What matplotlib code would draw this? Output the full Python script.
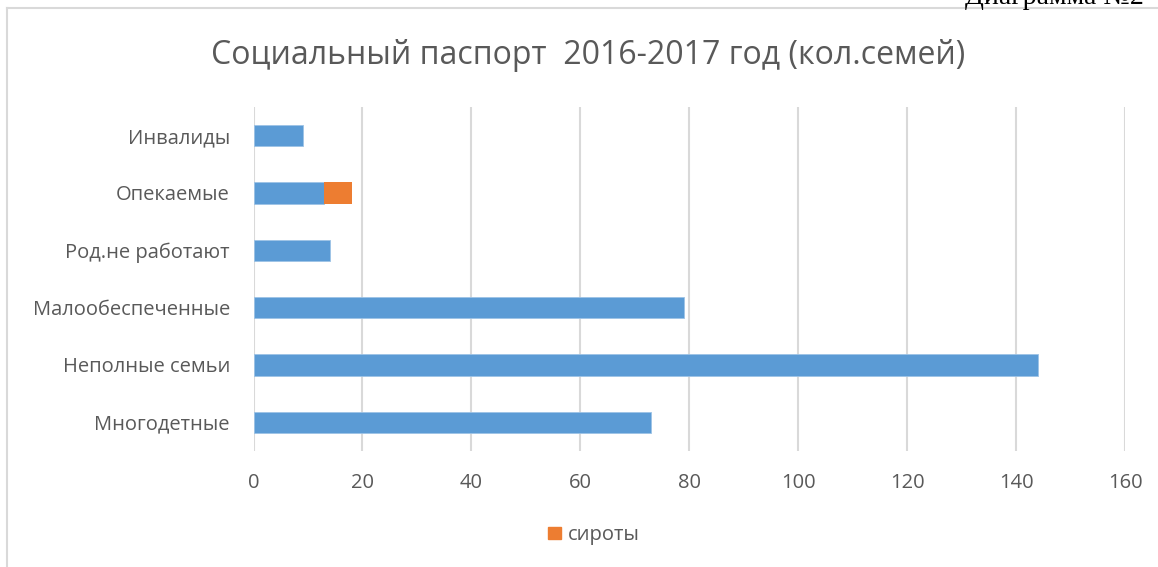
import matplotlib
matplotlib.use("Agg")
from matplotlib import pyplot as plt
from matplotlib.patches import Patch
import numpy as np

plt.rcParams['font.family'] = ['Open Sans', 'DejaVu Sans']

categories = ["Многодетные", "Неполные семьи", "Малообеспеченные",
              "Род.не работают", "Опекаемые", "Инвалиды"]
families = [73, 144, 79, 14, 13, 9]
orphans = [0, 0, 0, 0, 5, 0]
xticks = [0, 20, 40, 60, 80, 100, 120, 140, 160]

blue = "#5b9bd5"
orange = "#ed7d31"
grey = "#595959"

fig = plt.figure(figsize=(11.58, 5.67), dpi=100)
ax = fig.add_axes([253.5 / 1158, 1 - 451 / 567, (1125 - 253.5) / 1158, 344 / 567])

y = np.arange(len(categories))
ax.barh(y, families, height=0.375, color=blue, edgecolor="#9dc3e6", linewidth=0.6, zorder=3)
ax.barh(y, orphans, left=families, height=0.375, color=orange, linewidth=0, zorder=3)

ax.set_xlim(0, 160)
ax.set_ylim(-0.5, len(categories) - 0.5)
ax.set_xticks(xticks)
ax.set_yticks(y)
ax.set_yticklabels(categories)
ax.grid(axis="x", color="#d9d9d9", linewidth=1.5, zorder=0)
for s in ax.spines.values():
    s.set_visible(False)
ax.tick_params(length=0, labelsize=14.5, colors=grey)
ax.tick_params(axis="x", pad=16)
ax.tick_params(axis="y", pad=17)

fig.text(0.508, 1 - 56 / 567, "Социальный паспорт  2016-2017 год (кол.семей)",
         ha="center", va="center", fontsize=23, color=grey)

fig.legend(handles=[Patch(color=orange)], labels=["сироты"], loc="center",
           bbox_to_anchor=(594 / 1158, 1 - 535 / 567), frameon=False,
           fontsize=14.5, labelcolor=grey, handlelength=0.6, handleheight=0.6,
           handletextpad=0.35)

# рамка диаграммы
fig.add_artist(plt.Line2D([7 / 1158, 7 / 1158], [0, 1 - 8 / 567], color="#d9d9d9",
                          linewidth=1.5, transform=fig.transFigure))
fig.add_artist(plt.Line2D([7 / 1158, 1], [1 - 8 / 567, 1 - 8 / 567], color="#d9d9d9",
                          linewidth=1.5, transform=fig.transFigure))

# обрезанная подпись сверху
fig.text(965 / 1158, 1 + 3 / 567, "Диаграмма №2", ha="left", va="center",
         fontsize=20, family="Liberation Serif", color="black")

plt.savefig("out.png", dpi=100)
plt.close()
